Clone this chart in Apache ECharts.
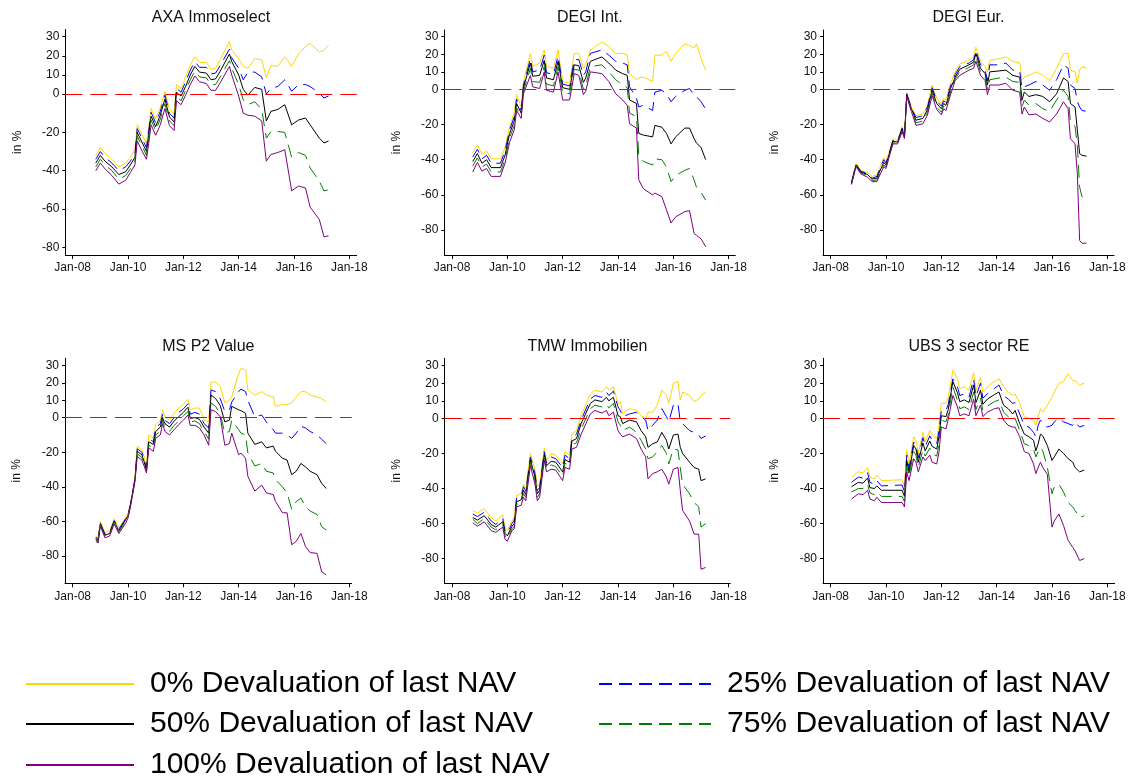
<!DOCTYPE html>
<html>
<head>
<meta charset="utf-8">
<script src="https://cdn.jsdelivr.net/npm/echarts@6/dist/echarts.min.js"></script>
<style>html,body{margin:0;padding:0;background:#fff}#chart{width:1131px;height:781px}</style>
</head>
<body>
<div id="chart"></div>
<script>
// ---------------- DATA ----------------
const LEVELS = ['0% Devaluation of last NAV','25% Devaluation of last NAV','50% Devaluation of last NAV','75% Devaluation of last NAV','100% Devaluation of last NAV'];
const TITLES = ['AXA Immoselect','DEGI Int.','DEGI Eur.','MS P2 Value','TMW Immobilien','UBS 3 sector RE'];
const X_TICKS = [2008,2010,2012,2014,2016,2018];
const Y_TICKS = [30,20,10,0,-20,-40,-60,-80];

// AXA Immoselect
const axaDates = ['2008-11','2009-01','2009-03','2009-06','2009-09','2009-12','2010-02','2010-04','2010-05','2010-07','2010-09','2010-10','2010-11','2011-01','2011-03','2011-05','2011-07','2011-09','2011-10','2011-12','2012-02','2012-04','2012-06','2012-08','2012-11','2013-01','2013-03','2013-05','2013-09','2013-10','2014-01','2014-03','2014-05','2014-08','2014-11','2015-01','2015-03','2015-06','2015-09','2015-12','2016-03','2016-06','2016-08','2016-12','2017-02','2017-04'];
const axa0   = [-32,-28,-31,-34,-38,-36,-33,-29,-16,-21,-26,-17,-7.5,-13,-7,1.5,-8,-10.5,5,3,9,15,19.5,16.5,16.5,13,13.5,18,27.5,23,18.5,14.5,13.5,18.5,18,8.5,15,14.5,19.5,14.5,21,25,26.5,22,23,25.5];
const axa25  = [-34,-30,-33,-36,-40,-38,-35,-31,-18,-23,-28,-19,-9.5,-15,-9,-0.5,-10,-12.5,3,1,6.5,12.5,17,14,14,10.5,11,15,23.5,19,13.5,7.5,11.5,11.5,9,0,3,4,7.5,1.5,5,5,4,0.5,-2,-1];
const axa50  = [-36,-32,-35,-38,-42,-40.5,-37,-33,-20,-25,-30,-21,-11.5,-17,-11,-2.5,-12,-14.5,1,-1,4,10,14.5,11.5,11,7.5,8,12,21,17,10,2.5,-0.5,3.5,2.5,-14,-9,-8,-5.5,-16,-13.5,-12.5,-16,-23,-25.5,-24.5];
const axa75  = [-38,-34,-37,-40,-44.5,-42.5,-39,-35,-22,-27,-32,-23,-13.5,-19,-13,-5,-14,-16.5,-1.5,-3.5,2,7.5,12,9,8.5,5,5,9,17.5,13.5,5,-3,-5.5,-4,-8,-23,-19.5,-19.5,-20,-33,-30.5,-32,-38.5,-45.5,-50.5,-50];
const axa100 = [-40,-36,-39,-42.5,-47,-45,-41,-37,-24.5,-29.5,-34,-25.5,-16,-21.5,-16,-7.5,-16.5,-19,-3.5,-5.5,-0.5,5,9.5,6.5,5.5,2,2,6,14.5,10,-1,-10,-11,-11.5,-14,-35,-31.5,-30.5,-29,-50.5,-48,-49,-59,-65.5,-74.5,-74];

// DEGI Int.
const degiIntDates = ['2008-10','2008-12','2009-02','2009-04','2009-06','2009-10','2009-12','2010-02','2010-04','2010-05','2010-07','2010-08','2010-11','2010-12','2011-03','2011-05','2011-06','2011-09','2011-11','2012-01','2012-04','2012-06','2012-08','2012-10','2012-11','2013-01','2013-06','2013-09','2013-12','2014-03','2014-05','2014-06','2014-09','2014-10','2014-12','2015-04','2015-05','2015-08','2015-10','2015-12','2016-02','2016-06','2016-08','2016-10','2016-11','2017-01','2017-03'];
const degiInt0   = [-36,-31.5,-37,-35,-39.5,-39.5,-33,-21,-13,-3,-10,4.5,20.5,13,15,22.5,13,12,22.5,4.5,3.5,20.5,20.5,12,14,22.5,27,24.5,20.5,20.5,19.5,9,5.5,6.5,7,4.5,19.5,19.5,21.5,16,20.5,26,25,23.5,26,17.5,11];
const degiInt25  = [-38.5,-34,-39.5,-37.5,-42,-42,-35,-23,-15.5,-5.5,-12,2.5,17.5,10,11,19.5,9.5,8.5,19,3,2,17,17,8,10,20.5,22.5,19.5,16,15,14,1.5,-5,-10,-9,-12,-1.5,-0.5,-2.5,-7,-4,-0.5,0.5,-3,-4,-7,-11];
const degiInt50  = [-41,-36.5,-42,-40,-44.5,-44.5,-37.5,-25,-18,-8,-13.5,1,15,7.5,8,16.5,6.5,5.5,16,1,0,14,13.5,4,6.5,16,18.5,15,11,9,8,-6,-8,-25,-26,-27,-20.5,-21.5,-25,-31,-27,-22,-22,-28,-30.5,-33,-40];
const degiInt75  = [-43.5,-39,-44,-42.5,-47,-47,-40,-27.5,-20.5,-10.5,-15,-1,12,4.5,4,13,3,2,13,-2,-2.5,11.5,11,0,2,13,14,10,5.5,2.5,1,-13.5,-15.5,-37.5,-41,-43,-39.5,-40,-44,-52.5,-49,-46,-45,-51.5,-55.5,-58.5,-63];
const degiInt100 = [-47,-41.5,-46.5,-45,-49.5,-49.5,-42,-30,-23,-12,-16.5,-2.5,8,1.5,0.5,10,-0.5,-1.5,10,-6,-6,9,8,-3,-1,10,9,4.5,-2.5,-6,-9,-19.5,-22,-51.5,-56.5,-60,-59,-61,-68.5,-76,-72.5,-69.5,-69,-82,-83,-85,-89.5];

// DEGI Eur.
const degiEurDates = ['2008-10','2008-12','2009-02','2009-05','2009-07','2009-09','2009-12','2010-01','2010-03','2010-04','2010-06','2010-08','2010-09','2010-10','2010-12','2011-02','2011-05','2011-07','2011-09','2011-11','2012-01','2012-02','2012-03','2012-05','2012-07','2012-09','2013-01','2013-03','2013-04','2013-06','2013-08','2013-09','2013-10','2014-02','2014-05','2014-08','2014-11','2014-12','2015-01','2015-03','2015-06','2015-09','2015-12','2016-03','2016-06','2016-08','2016-09','2016-11','2016-12','2017-01','2017-02','2017-04'];
const degiEur0   = [-53,-42,-46,-47.5,-49.5,-48.5,-39,-41,-33,-28,-29,-21,-26,-2,-10,-15,-14,-9,2.5,-5,-8,-5,-6,3.5,10,14.5,16.5,18.5,24,16,13,10,16.5,17.5,18.5,16,15,5.5,7,8,10,8,5,12,20.5,20.5,11,10,3.5,11,13,12];
const degiEur25  = [-53,-42.5,-46.5,-48,-50.5,-49.5,-40,-42,-33.5,-29,-29.5,-22,-26.5,-2.5,-10.5,-16,-15,-10,1,-6.5,-9.5,-6.5,-7.5,2,8.5,13,15,17,22,14,11,5,14,14,15,11,10.5,0.5,1.5,2.5,4.5,2.5,-0.5,5.5,14,12,2.5,0.5,-7,-10,-12,-12.5];
const degiEur50  = [-53.5,-43,-47,-48.5,-51,-50.5,-41.5,-43,-34,-29.5,-30,-22.5,-27,-3,-11,-17.5,-16.5,-11.5,-0.5,-8,-11,-8,-9,0.5,7,11.5,14,15.5,20.5,12,9,2.5,10,10.5,11,8,7,-6,-1.5,-4,-3,-4,-7,-2.5,6.5,4.5,-8,-10,-23,-36.5,-37.5,-38];
const degiEur75  = [-54,-43.5,-47.5,-49,-52,-51.5,-43,-44,-35,-30.5,-30.5,-23.5,-27.5,-3.5,-12,-19,-18,-13,-2,-10,-13,-9.5,-10.5,-1.5,6,10,12.5,14,18.5,10,7,0,5.5,6.5,7,4.5,4,-10,-6,-9,-8,-11,-12.5,-6,-0.5,-4,-18.5,-21,-32,-55.5,-61,-62];
const degiEur100 = [-54,-44,-48,-50,-52.5,-52.5,-44,-45,-35.5,-31,-31,-24,-28,-4,-12.5,-20.5,-19.5,-14.5,-3.5,-11.5,-14.5,-11,-12,-3,5,8,11,12,16,8,5,-3,2.5,2.5,3.5,-0.5,-1.5,-14,-10,-14.5,-14,-16.5,-18.5,-14,-7,-11,-28,-31,-48,-86,-87.5,-87.5];

// MS P2 Value
const msDates = ['2008-11','2008-12','2009-01','2009-03','2009-05','2009-07','2009-09','2009-12','2010-01','2010-02','2010-04','2010-05','2010-07','2010-08','2010-09','2010-10','2010-12','2011-01','2011-03','2011-04','2011-05','2011-07','2011-09','2011-11','2012-01','2012-03','2012-04','2012-06','2012-08','2012-10','2012-12','2013-01','2013-03','2013-05','2013-07','2013-09','2013-10','2014-01','2014-02','2014-04','2014-05','2014-08','2014-11','2015-01','2015-04','2015-05','2015-08','2015-10','2015-12','2016-02','2016-04','2016-06','2016-08','2016-11','2017-01','2017-03'];
const ms0   = [-68,-70,-60,-66.5,-65.5,-58.5,-64,-57.5,-55,-50,-35,-16.5,-18.5,-22.5,-29,-10,-12,-4,-1.5,4.5,0.5,-1.5,2.5,5.5,7.5,10.5,4.5,5.5,5.5,-1,-2.5,20.5,20.5,18,8.5,10,12,25.5,28.5,27.5,16,13,15,13,12,6.5,7.5,7.5,8.5,12,15,15,13,12,11,9];
const ms25  = [-69,-70.5,-61,-67.5,-66.5,-59.5,-64.5,-58.5,-56,-50.5,-35.5,-18,-20,-24,-29.5,-12,-14,-6,-3.5,2,-1.5,-3.5,0,3,5,8,2,3,2,-3.5,-6,16,15,11,3.5,4.5,9,15,16.5,15,10,0.5,1.5,-2.5,-7,-9,-9,-10,-12,-9,-5,-6,-8,-10,-12.5,-15];
const ms50  = [-70,-71,-61.5,-68,-67,-60,-65.5,-59,-56.5,-51,-36,-19.5,-21.5,-25.5,-30.5,-14,-15.5,-8,-5.5,0,-3.5,-5.5,-2,0.5,3,6,-0.5,0,-1,-5.5,-9,13,11,7,-2.5,-1.5,6.5,4.5,4,2.5,-9,-15.5,-14,-17.5,-16.5,-19.5,-23.5,-24.5,-33,-31,-26.5,-28.5,-31,-33,-38,-41];
const ms75  = [-70.5,-72,-62,-69,-68,-60.5,-66,-60,-57,-51.5,-36.5,-21,-23,-27,-31,-16,-17.5,-10,-8,-1.5,-6,-8,-4.5,-2,1,3.5,-2.5,-2,-3.5,-8,-12.5,8.5,6.5,2,-9,-8,-1.5,-7,-9,-10,-20.5,-28,-26.5,-31,-32,-36,-40,-43.5,-53,-48.5,-46.5,-51.5,-54,-56,-63,-65];
const ms100 = [-71.5,-72.5,-62.5,-69.5,-68.5,-61.5,-67,-61,-58,-52,-37,-22.5,-24.5,-28,-32,-17.5,-19.5,-12,-10,-3.5,-8,-10,-7,-4,-1.5,1.5,-4.5,-4.5,-6,-10,-16,4.5,3.5,0.5,-16,-15,-9,-21.5,-20.5,-23.5,-34,-42.5,-39,-43.5,-44.5,-48.5,-55,-55,-73.5,-71.5,-67,-74.5,-78,-78.5,-89,-91];

// TMW Immobilien
const tmwDates = ['2008-10','2008-12','2009-03','2009-06','2009-08','2009-11','2009-12','2010-01','2010-03','2010-04','2010-05','2010-07','2010-08','2010-09','2010-11','2011-01','2011-02','2011-03','2011-05','2011-06','2011-08','2011-10','2012-01','2012-02','2012-04','2012-05','2012-07','2012-09','2013-01','2013-03','2013-06','2013-08','2013-09','2013-11','2014-01','2014-02','2014-03','2014-06','2014-09','2014-11','2015-01','2015-02','2015-04','2015-06','2015-08','2015-10','2015-11','2016-01','2016-03','2016-04','2016-05','2016-08','2016-10','2016-12','2017-01','2017-03'];
const tmw0   = [-52.5,-54,-51.5,-56.5,-58.5,-55,-62,-64,-58.5,-56.5,-44,-43,-37.5,-40,-20,-29.5,-39,-37.5,-17,-24,-20,-21,-26,-19,-21,-9,-7,1.5,14,16,15,18,16,18,8.5,9.5,2.5,5.5,4.5,1.5,0,3.5,3.5,7.5,16,13,8.5,20,21,10.5,15,13,9.5,11,13,15];
const tmw25  = [-54.5,-56,-53.5,-58.5,-60.5,-57,-64,-65.5,-60,-58,-45.5,-44.5,-39,-41.5,-22,-31.5,-41,-39.5,-19,-25.5,-22,-23,-28,-21,-23,-11,-9,-1,11,13,12,15,13,15.5,6.5,4.5,1,2.5,3.5,1,-1,-7,-4,-1,5.5,1,-2,7.5,8.5,-2,-3,-7,-8,-9.5,-11.5,-10];
const tmw50  = [-56.5,-58,-55.5,-60.5,-62,-59,-65.5,-67,-61.5,-60,-47.5,-46.5,-41,-43.5,-23.5,-33.5,-43,-41,-20.5,-27,-24.5,-25,-30.5,-23.5,-25,-13,-11.5,-3,8.5,10.5,9.5,12,10,12,1.5,1,-3,-1,-2,-7,-10.5,-16.5,-14.5,-13.5,-8,-12.5,-17.5,-9.5,-9,-16.5,-20,-25,-28,-29,-35.5,-34.5];
const tmw75  = [-57.5,-60,-57,-62,-63.5,-60.5,-67,-68.5,-63,-61.5,-49,-48,-43,-45,-25,-35.5,-45,-43,-22,-29,-26.5,-27.5,-33,-25.5,-27,-15,-14,-6,5.5,7.5,6.5,8,6,8.5,-2,-4,-7,-5,-8,-12.5,-17.5,-23,-22,-19,-15.5,-20,-26,-17.5,-18,-28,-37.5,-43,-48,-50.5,-62,-60];
const tmw100 = [-59.5,-61.5,-59,-64,-65,-62,-69,-70,-64,-63,-50.5,-49.5,-45,-47,-27,-37.5,-47,-45,-24,-30.5,-29,-29.5,-35.5,-28,-29,-17.5,-16.5,-9,2.5,4.5,3,4.5,1.5,3.5,-7,-9,-10.5,-9,-11.5,-17.5,-22,-34.5,-31.5,-30.5,-29,-33.5,-37.5,-29,-28,-41,-52.5,-58.5,-66,-66,-86,-85];

// UBS 3 sector RE
const ubsDates = ['2008-10','2009-01','2009-03','2009-05','2009-06','2009-08','2009-09','2009-11','2010-08','2010-09','2010-10','2010-11','2011-01','2011-02','2011-03','2011-05','2011-06','2011-08','2011-09','2011-11','2011-12','2012-01','2012-03','2012-04','2012-06','2012-08','2012-09','2012-11','2013-01','2013-03','2013-04','2013-06','2013-07','2013-09','2013-12','2014-02','2014-04','2014-06','2014-08','2014-09','2014-11','2015-01','2015-03','2015-05','2015-06','2015-07','2015-08','2015-09','2015-11','2016-01','2016-02','2016-04','2016-06','2016-08','2016-10','2016-11','2017-01','2017-03'];
const ubs0   = [-33.5,-30.5,-31,-28,-33.5,-34.5,-32.5,-35.5,-35,-39,-18,-26,-10.5,-12.5,-20,-8,-13.5,-7,-9.5,-11.5,-4,8.5,8.5,12,27.5,22.5,17,18,16,26,16,23.5,15,18,21,22.5,18,15,13,14,8.5,1,0,-1,-4,1,5.5,3.5,7.5,12,15,20,21,25.5,21.5,21.5,19,20];
const ubs25  = [-36.5,-33.5,-34,-31,-36.5,-37.5,-35.5,-38.5,-38,-42,-21,-28.5,-13.5,-15.5,-22.5,-11,-16,-10,-12.5,-14.5,-7,4.5,4.5,8,22.5,18,13,14,12,22.5,12.5,20,11.5,14,17,19,13,11,8.5,9,2.5,-4,-5,-8,-10.5,-4,-1,-3,-5,-4,-2,0,-2,-3,-4,-2,-5,-4];
const ubs50  = [-39,-36.5,-37,-34,-39.5,-40,-38.5,-41,-41,-44.5,-24,-31,-15.5,-17.5,-25,-14,-18.5,-13,-16,-17.5,-10.5,1.5,1,5,21,14.5,9.5,10.5,9,19,9,16,8,11,13.5,15,7.5,5.5,2.5,4.5,-3,-9,-10.5,-12.5,-18.5,-14.5,-9,-10,-15.5,-24,-22,-17.5,-20,-23,-25,-28,-30.5,-29.5];
const ubs75  = [-42,-40,-40,-37.5,-42.5,-43.5,-42,-44.5,-44.5,-47.5,-27,-33,-19,-21,-28,-18,-21.5,-17,-20,-21.5,-14.5,-1,-2,2,18,10,5.5,6.5,5,15,5,11.5,4.5,7,9.5,10.5,3.5,1,-1,0,-7,-14.5,-15.5,-17.5,-22,-19,-16.5,-18.5,-28,-43,-39,-37.5,-42,-48,-50.5,-52.5,-56.5,-55.5];
const ubs100 = [-46,-43,-43.5,-41,-46,-47,-45,-48,-48,-50.5,-30.5,-35.5,-23,-25,-30.5,-22,-24,-21,-25,-26,-19,-5,-6,-0.5,13,6.5,1.5,2.5,1.5,11,1.5,7.5,1,3.5,5.5,6,-1,-4,-5,-5,-10.5,-19,-20,-26,-31.5,-28,-25,-28,-32,-62,-58.5,-54.5,-61,-69.5,-73.5,-75.5,-81,-80];

const PANEL_DATA = [
  {dates: axaDates,     values: [axa0, axa25, axa50, axa75, axa100]},
  {dates: degiIntDates, values: [degiInt0, degiInt25, degiInt50, degiInt75, degiInt100]},
  {dates: degiEurDates, values: [degiEur0, degiEur25, degiEur50, degiEur75, degiEur100]},
  {dates: msDates,      values: [ms0, ms25, ms50, ms75, ms100]},
  {dates: tmwDates,     values: [tmw0, tmw25, tmw50, tmw75, tmw100]},
  {dates: ubsDates,     values: [ubs0, ubs25, ubs50, ubs75, ubs100]}
];

// ---------------- LAYOUT / STYLE ----------------
const FONT = '"Liberation Sans", Arial, Helvetica, sans-serif';
const COLORS = ['#FFD700', '#0000FF', '#000000', '#008000', '#800080'];
const DASH = [null, [13, 7], null, [13, 7], null];
// pixel frame of each panel: axis extents, positions of Jan-08 / Jan-18 and of the 30 / -80 ticks
const FRAMES = [
  {left: 65.3,  right: 356.7,  top: 29.5,  bottom: 255,   jan08: 72.7,  jan18: 349.3,  y30: 36.7,  yM80: 247.3, titleY: 16},
  {left: 444.3, right: 735.3,  top: 30,    bottom: 255,   jan08: 452,   jan18: 728.7,  y30: 36.7,  yM80: 230,   titleY: 16},
  {left: 823,   right: 1114,   top: 30,    bottom: 255,   jan08: 830.7, jan18: 1107.3, y30: 36.7,  yM80: 230,   titleY: 16},
  {left: 65,    right: 351.7,  top: 358.3, bottom: 583.3, jan08: 72.7,  jan18: 349.3,  y30: 365.7, yM80: 556,   titleY: 345},
  {left: 444.7, right: 730.3,  top: 358.3, bottom: 583.3, jan08: 452,   jan18: 728.7,  y30: 365.7, yM80: 558.7, titleY: 345},
  {left: 823,   right: 1114.7, top: 358.3, bottom: 583.3, jan08: 830.7, jan18: 1107.3, y30: 365.7, yM80: 558.7, titleY: 345}
];

function toYear(s) { const p = s.split('-'); return Number(p[0]) + (Number(p[1]) - 1) / 12; }

const grids = [], xAxes = [], yAxes = [], titles = [], series = [];
FRAMES.forEach((f, i) => {
  const ppy = (f.jan18 - f.jan08) / 10;
  const ppu = (f.yM80 - f.y30) / 110;
  grids.push({left: f.left, top: f.top, width: f.right - f.left, height: f.bottom - f.top, containLabel: false});
  xAxes.push({
    type: 'value', gridIndex: i,
    min: 2008 - (f.jan08 - f.left) / ppy, max: 2018 + (f.right - f.jan18) / ppy,
    axisLine: {show: true, onZero: false, lineStyle: {color: '#000', width: 1}},
    axisTick: {show: true, customValues: X_TICKS, length: 4, lineStyle: {color: '#000', width: 1}},
    axisLabel: {show: true, customValues: X_TICKS, margin: 7, fontSize: 12, color: '#111', fontFamily: FONT,
      formatter: v => 'Jan-' + String(Math.round(v)).slice(2)},
    splitLine: {show: false}
  });
  yAxes.push({
    type: 'value', gridIndex: i,
    min: -80 - (f.bottom - f.yM80) / ppu, max: 30 + (f.y30 - f.top) / ppu,
    name: 'in %', nameLocation: 'middle', nameGap: 42, nameRotate: 90,
    nameTextStyle: {fontSize: 12, color: '#111', fontFamily: FONT},
    axisLine: {show: true, onZero: false, lineStyle: {color: '#000', width: 1}},
    axisTick: {show: true, customValues: Y_TICKS, length: 3, lineStyle: {color: '#000', width: 1}},
    axisLabel: {show: true, customValues: Y_TICKS, margin: 6, fontSize: 12, color: '#111', fontFamily: FONT},
    splitLine: {show: false}
  });
  titles.push({
    text: TITLES[i], left: (f.left + f.right) / 2, top: f.titleY - 6, textAlign: 'center', padding: 0,
    textStyle: {fontSize: 16, fontWeight: 'normal', color: '#111', fontFamily: FONT}
  });
  const pd = PANEL_DATA[i];
  LEVELS.forEach((name, j) => {
    const s = {
      type: 'line', name: name, xAxisIndex: i, yAxisIndex: i,
      data: pd.dates.map((d, k) => [toYear(d), pd.values[j][k]]),
      symbol: 'none', showSymbol: false, silent: true, animation: false,
      lineStyle: {color: COLORS[j], width: 1, type: DASH[j] || 'solid'},
      itemStyle: {color: COLORS[j]},
      emphasis: {disabled: true}
    };
    if (j === 0) {
      s.markLine = {
        silent: true, symbol: 'none', animation: false,
        label: {show: false},
        lineStyle: {color: '#FF0000', width: 1, type: [17, 8]},
        emphasis: {disabled: true},
        data: [{yAxis: 0}]
      };
    }
    series.push(s);
  });
});

// legend: two columns, row-wise order like the reference
const LEGEND_POS = [
  {left: 25,  cy: 684, w: 108},
  {left: 598, cy: 684, w: 112},
  {left: 25,  cy: 724, w: 108},
  {left: 598, cy: 724, w: 112},
  {left: 25,  cy: 765, w: 108}
];
const legends = LEVELS.map((name, j) => ({
  data: [name], left: LEGEND_POS[j].left, top: LEGEND_POS[j].cy - 15, padding: 0,
  itemWidth: LEGEND_POS[j].w, itemHeight: 14, selectedMode: false,
  lineStyle: {width: 2},
  itemStyle: {opacity: 0},
  textStyle: {fontSize: 30, color: '#000', fontFamily: FONT, padding: [0, 0, 0, 11]}
}));

const chart = echarts.init(document.getElementById('chart'), null, {renderer: 'canvas'});
chart.setOption({
  backgroundColor: '#fff',
  animation: false,
  title: titles,
  grid: grids,
  xAxis: xAxes,
  yAxis: yAxes,
  legend: legends,
  series: series
});
</script>
</body>
</html>
